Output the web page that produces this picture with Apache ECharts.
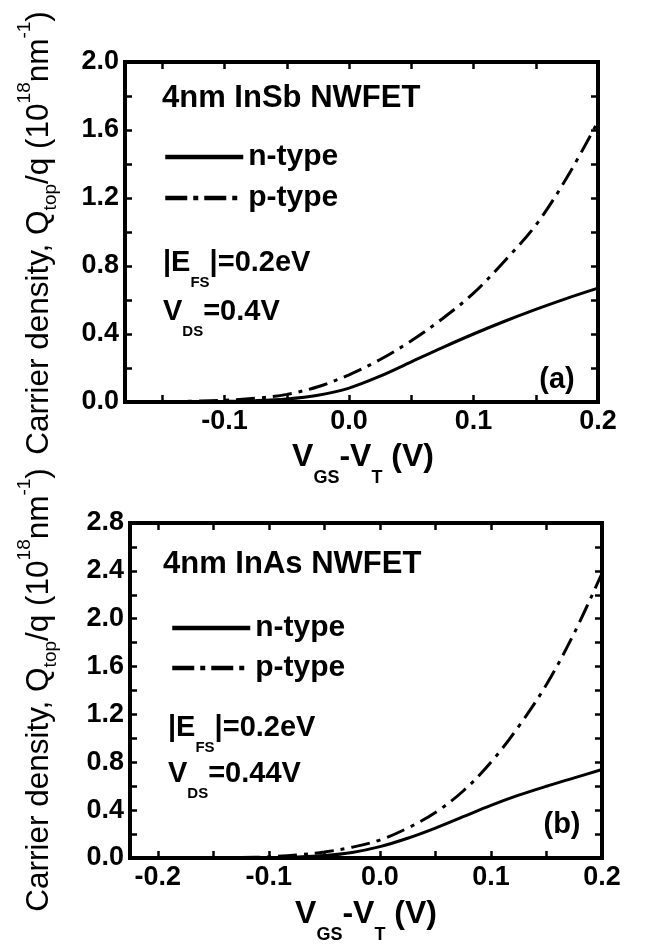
<!DOCTYPE html>
<html><head><meta charset="utf-8">
<script src="https://cdn.jsdelivr.net/npm/echarts@6/dist/echarts.min.js"></script>
<style>html,body{margin:0;padding:0;background:#fff}#c{width:651px;height:948px}</style>
</head><body><div id="c"></div>
<script>
// ---- data: panel (a) 4nm InSb NWFET ----
const xA = [-0.18, -0.15, -0.125, -0.1, -0.075, -0.05, -0.025, 0, 0.025, 0.05, 0.075, 0.1, 0.125, 0.15, 0.175, 0.2];
const nA = [0, 0.001, 0.002, 0.004, 0.008, 0.018, 0.040, 0.082, 0.152, 0.236, 0.320, 0.400, 0.475, 0.545, 0.610, 0.670];
const pA = [0, 0.002, 0.005, 0.010, 0.022, 0.045, 0.090, 0.160, 0.250, 0.360, 0.490, 0.640, 0.830, 1.040, 1.320, 1.650];
// ---- data: panel (b) 4nm InAs NWFET ----
const xB = [-0.225, -0.2, -0.15, -0.125, -0.1, -0.075, -0.05, -0.025, 0, 0.025, 0.05, 0.075, 0.1, 0.125, 0.15, 0.175, 0.2];
const nB = [0, 0, 0.001, 0.002, 0.003, 0.008, 0.020, 0.046, 0.095, 0.165, 0.250, 0.345, 0.440, 0.525, 0.600, 0.670, 0.740];
const pB = [0, 0, 0.002, 0.004, 0.010, 0.025, 0.050, 0.090, 0.150, 0.250, 0.380, 0.560, 0.800, 1.100, 1.450, 1.880, 2.380];
// ---- ticks ----
const xTicksA = [-0.15, -0.1, -0.05, 0, 0.05, 0.1, 0.15, 0.2];
const xLabelsA = [-0.1, 0, 0.1, 0.2];
const xTicksB = [-0.2, -0.15, -0.1, -0.05, 0, 0.05, 0.1, 0.15, 0.2];
const xLabelsB = [-0.2, -0.1, 0, 0.1, 0.2];
const yMaxA = 2.0, yMaxB = 2.8, yStep = 0.4;
const names = ['n-type', 'p-type'];

const FF = "'Liberation Sans', Arial, Helvetica, sans-serif";
const pair = (xs, ys) => xs.map((x, i) => [x, ys[i]]);
const dashDot = [19, 7, 4, 7];

function xAx(g, min, ticks, labels, pos) {
  return {
    type: 'value', gridIndex: g, min: min, max: 0.2, position: pos,
    axisLine: { show: false, onZero: false }, splitLine: { show: false },
    axisTick: { show: true, inside: true, length: 7, customValues: ticks, lineStyle: { color: '#000', width: 2.5 } },
    axisLabel: { show: pos === 'bottom', customValues: labels, margin: 6, color: '#000',
      fontFamily: FF, fontWeight: 'bold', fontSize: 27, formatter: v => (+v).toFixed(1) }
  };
}
function yAx(g, max, pos) {
  return {
    type: 'value', gridIndex: g, min: 0, max: max, interval: yStep, position: pos,
    axisLine: { show: false, onZero: false }, splitLine: { show: false },
    axisTick: { show: true, inside: true, length: 7, lineStyle: { color: '#000', width: 2.5 } },
    minorTick: { show: true, splitNumber: 2, length: 7, lineStyle: { color: '#000', width: 2.5 } },
    axisLabel: { show: pos === 'left', margin: 6, color: '#000',
      fontFamily: FF, fontWeight: 'bold', fontSize: 27, formatter: v => (+v).toFixed(1) }
  };
}
function ser(name, xi, yi, data, dash) {
  return { name: name, type: 'line', xAxisIndex: xi, yAxisIndex: yi, data: data,
    symbol: 'none', showSymbol: false, smooth: 0.35,
    lineStyle: { color: '#000', width: 3, type: dash ? dashDot : 'solid', cap: 'butt' },
    itemStyle: { color: '#000' } };
}
function legendAt(left, top, gap) {
  return { left: left, top: top, orient: 'vertical', padding: 0, itemWidth: 78, itemHeight: 14, itemGap: gap,
    selectedMode: false,
    itemStyle: { opacity: 0, borderWidth: 0 },
    textStyle: { color: '#000', fontFamily: FF, fontWeight: 'bold', fontSize: 30, lineHeight: 30 },
    data: [
      { name: names[0], itemStyle: { opacity: 0, borderWidth: 0 }, lineStyle: { width: 4.5, type: 'solid', color: '#000' } },
      { name: names[1], itemStyle: { opacity: 0, borderWidth: 0 }, lineStyle: { width: 4.5, type: [22, 6, 5, 6], color: '#000' } }
    ] };
}
// rich text helpers (annotations with subscripts / superscripts)
function richB(F, s, drop) {
  return {
    m: { fontSize: F, lineHeight: F, fontWeight: 'bold', fontFamily: FF, verticalAlign: 'top', fill: '#000', color: '#000' },
    sb: { fontSize: s, lineHeight: s, fontWeight: 'bold', fontFamily: FF, verticalAlign: 'top', fill: '#000', color: '#000',
      padding: [F / 2 + drop - s / 2, 0, 0, 0] }
  };
}
function txt(x, y, text, rich) {
  return { type: 'text', x: x, y: y, z: 100,
    style: { text: text, rich: rich, fill: '#000', align: 'left', verticalAlign: 'top', textAlign: 'left', textVerticalAlign: 'top' } };
}
function plain(x, y, text, size, align) {
  return { type: 'text', x: x, y: y, z: 100,
    style: { text: text, fill: '#000', font: 'bold ' + size + 'px ' + FF,
      align: align || 'left', verticalAlign: 'middle', textAlign: align || 'left', textVerticalAlign: 'middle' } };
}
const yTitleRich = {
  m: { fontSize: 31.5, lineHeight: 32, fontFamily: FF, fontWeight: 'normal', verticalAlign: 'top', padding: [8, 0, 0, 0], fill: '#000', color: '#000' },
  sb: { fontSize: 19, lineHeight: 19, fontFamily: FF, fontWeight: 'normal', verticalAlign: 'top', padding: [26, 0, 0, 0], fill: '#000', color: '#000' },
  sp: { fontSize: 19, lineHeight: 19, fontFamily: FF, fontWeight: 'normal', verticalAlign: 'top', fill: '#000', color: '#000' }
};
const yTitle = '{m|Carrier density, Q}{sb|top}{m|/q (10}{sp|18}{m|nm}{sp|-1}{m|)}';
const xTitle = '{m|V}{sb|GS}{m|-V}{sb|T}{m| (V)}';
const richX = richB(32, 18, 21);
const richAnn = richB(29, 15, 20);
function ytitle(cx, cy) {
  return { type: 'text', x: cx, y: cy, rotation: Math.PI / 2, z: 100,
    style: { text: yTitle, rich: yTitleRich, fill: '#000', align: 'center', verticalAlign: 'middle', textAlign: 'center', textVerticalAlign: 'middle' } };
}
function xtitle(cx, top) {
  return { type: 'text', x: cx, y: top, z: 100,
    style: { text: xTitle, rich: richX, fill: '#000', align: 'center', verticalAlign: 'top', textAlign: 'center', textVerticalAlign: 'top' } };
}

const chart = echarts.init(document.getElementById('c'), null, { renderer: 'canvas' });
chart.setOption({
  animation: false,
  backgroundColor: '#fff',
  grid: [
    { left: 125, top: 62, width: 473, height: 340, show: true, borderColor: '#000', borderWidth: 4, backgroundColor: 'transparent' },
    { left: 130, top: 523, width: 472, height: 335, show: true, borderColor: '#000', borderWidth: 4, backgroundColor: 'transparent' }
  ],
  xAxis: [
    xAx(0, -0.18, xTicksA, xLabelsA, 'bottom'), xAx(0, -0.18, xTicksA, xLabelsA, 'top'),
    xAx(1, -0.225, xTicksB, xLabelsB, 'bottom'), xAx(1, -0.225, xTicksB, xLabelsB, 'top')
  ],
  yAxis: [
    yAx(0, yMaxA, 'left'), yAx(0, yMaxA, 'right'),
    yAx(1, yMaxB, 'left'), yAx(1, yMaxB, 'right')
  ],
  legend: [legendAt(163, 142, 11), legendAt(170, 613, 10)],
  series: [
    ser(names[0], 0, 0, pair(xA, nA), false),
    ser(names[1], 0, 0, pair(xA, pA), true),
    ser(names[0], 2, 2, pair(xB, nB), false),
    ser(names[1], 2, 2, pair(xB, pB), true)
  ],
  graphic: [
    ytitle(31, 233), ytitle(31, 690),
    xtitle(363, 441), xtitle(366, 898),
    plain(162, 98, '4nm InSb NWFET', 31),
    plain(163, 564, '4nm InAs NWFET', 31),
    txt(163, 248, '{m||E}{sb|FS}{m||=0.2eV}', richAnn),
    txt(163, 297, '{m|V}{sb|DS}{m|=0.4V}', richAnn),
    txt(168, 713, '{m||E}{sb|FS}{m||=0.2eV}', richAnn),
    txt(168, 759, '{m|V}{sb|DS}{m|=0.44V}', richAnn),
    plain(557, 380, '(a)', 29, 'center'),
    plain(562, 825, '(b)', 29, 'center')
  ]
});
</script></body></html>
